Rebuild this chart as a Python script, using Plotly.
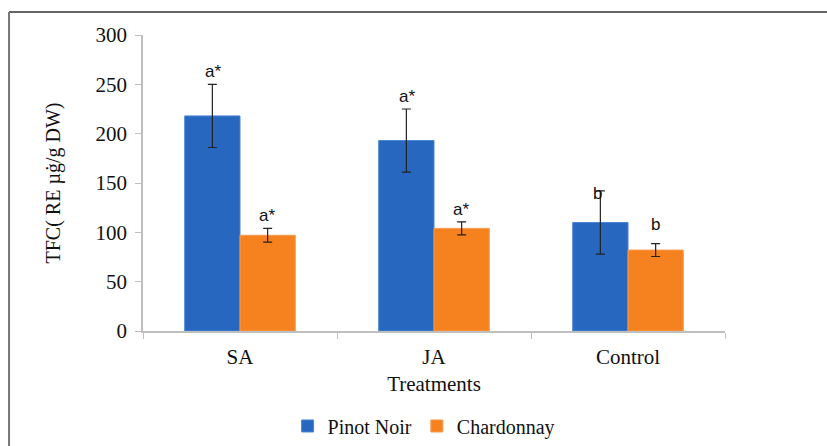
import plotly.graph_objects as go

# Total flavonoid content by elicitor treatment and grape cultivar
treatments = ["SA", "JA", "Control"]
pinot_noir = [218, 193, 110]
pinot_noir_err = [32, 32, 32]
chardonnay = [97, 104, 82]
chardonnay_err = [7, 6.5, 6.5]
pinot_letters = ["a*", "a*", "b"]
chard_letters = ["a*", "a*", "b"]

BLUE = "#2767bf"
ORANGE = "#f5821f"
AXIS_GRAY = "#bfbfbf"
SERIF = "Times New Roman, Liberation Serif, serif"
SANS = "Liberation Sans"

fig = go.Figure()
fig.add_trace(go.Bar(
    name="Pinot Noir", x=treatments, y=pinot_noir,
    marker=dict(color=BLUE, line=dict(color="#4a86d2", width=1)),
    error_y=dict(type="data", array=pinot_noir_err, color="#222222",
                 thickness=1.2, width=4.5),
))
fig.add_trace(go.Bar(
    name="Chardonnay", x=treatments, y=chardonnay,
    marker=dict(color=ORANGE, line=dict(color="#f89a4c", width=1)),
    error_y=dict(type="data", array=chardonnay_err, color="#222222",
                 thickness=1.2, width=4.5),
))

# Significance letters above the error bars
annotations = []
for i, t in enumerate(treatments):
    top_p = pinot_noir[i] + pinot_noir_err[i]
    top_c = chardonnay[i] + chardonnay_err[i]
    p_shift = 1 if pinot_letters[i] != "b" else -14
    c_shift = 1 if chard_letters[i] != "b" else 8
    annotations.append(dict(
        x=i - 0.14, y=top_p, xref="x", yref="y", text=pinot_letters[i],
        showarrow=False, yanchor="bottom", yshift=p_shift,
        xshift=-3 if pinot_letters[i] == "b" else 0,
        font=dict(family=SANS, size=17, color="#111111"),
    ))
    annotations.append(dict(
        x=i + 0.14, y=top_c, xref="x", yref="y", text=chard_letters[i],
        showarrow=False, yanchor="bottom", yshift=c_shift,
        font=dict(family=SANS, size=17, color="#111111"),
    ))

# Frame lines along the top and left of the figure
shapes = [
    dict(type="line", xref="paper", yref="paper", x0=-0.2302, x1=1.2,
         y0=1.0777, y1=1.0777, line=dict(color="#666666", width=2)),
    dict(type="line", xref="paper", yref="paper", x0=-0.2302, x1=-0.2302,
         y0=1.0777, y1=-0.4, line=dict(color="#777777", width=2)),
]

fig.update_layout(
    width=827, height=446,
    margin=dict(l=143, r=102, t=35, b=115, autoexpand=False),
    paper_bgcolor="white", plot_bgcolor="white",
    barmode="group", bargap=0.43, bargroupgap=0,
    font=dict(family=SERIF, color="#111111"),
    showlegend=True,
    legend=dict(orientation="h", x=0.483, xanchor="center", y=-0.255,
                yanchor="top", font=dict(family=SERIF, size=20),
                itemwidth=30, tracegroupgap=0),
    annotations=annotations,
    shapes=shapes,
)
fig.update_xaxes(
    automargin=False,
    showline=True, linecolor=AXIS_GRAY, linewidth=1.5,
    ticks="outside", tickson="boundaries", ticklen=6, tickcolor=AXIS_GRAY,
    ticklabelstandoff=6,
    tickfont=dict(family=SERIF, size=21),
    title=dict(text="Treatments", font=dict(family=SERIF, size=21), standoff=8),
    showgrid=False, zeroline=False,
)
fig.update_yaxes(
    automargin=False,
    range=[0, 300], dtick=50,
    showline=True, linecolor=AXIS_GRAY, linewidth=1.5,
    ticks="outside", ticklen=6, tickcolor=AXIS_GRAY,
    ticklabelstandoff=4,
    tickfont=dict(family=SERIF, size=21),
    title=dict(text="TFC( RE µġ/g DW)", font=dict(family=SERIF, size=20), standoff=30),
    showgrid=False, zeroline=False,
)

fig.write_html("out.html")
